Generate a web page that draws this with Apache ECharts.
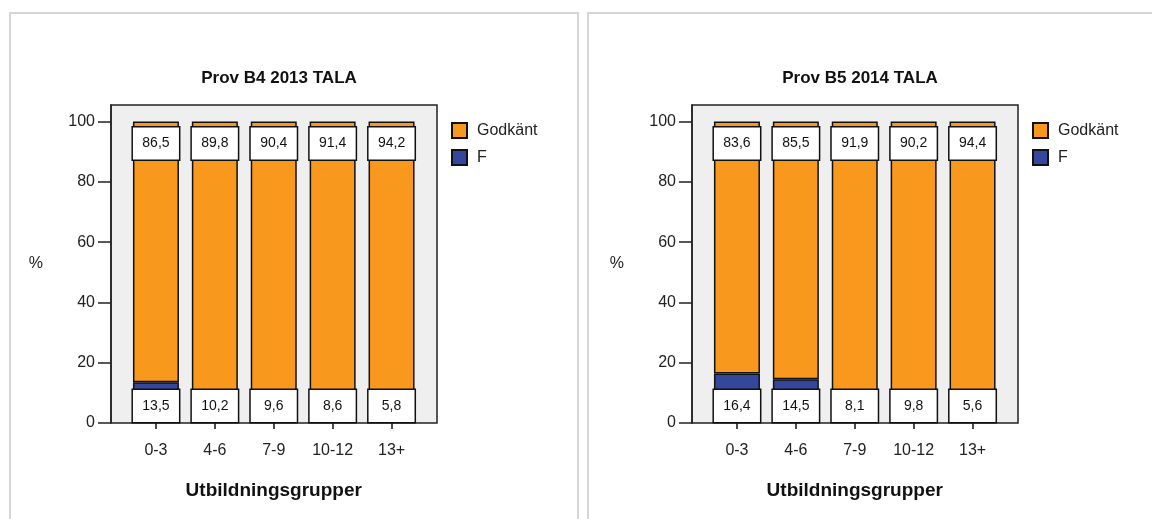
<!DOCTYPE html>
<html>
<head>
<meta charset="utf-8">
<script src="https://cdn.jsdelivr.net/npm/echarts@6/dist/echarts.min.js"></script>
<style>
  html, body { margin: 0; padding: 0; background: #fff; }
  #chart { width: 1152px; height: 519px; }
</style>
</head>
<body>
<div id="chart"></div>
<script>
// utbildningsgrupper
const categories = ['0-3', '4-6', '7-9', '10-12', '13+']
const yTicks = [0, 20, 40, 60, 80, 100]

// Prov B4 2013 TALA
const godkantB4 = [86.5, 89.8, 90.4, 91.4, 94.2]
const fB4 = [13.5, 10.2, 9.6, 8.6, 5.8]

// Prov B5 2014 TALA
const godkantB5 = [83.6, 85.5, 91.9, 90.2, 94.4]
const fB5 = [16.4, 14.5, 8.1, 9.8, 5.6]

const titles = ['Prov B4 2013 TALA', 'Prov B5 2014 TALA']

const ORANGE = '#f8981d'
const BLUE = '#34479c'
const FONT = 'Liberation Sans, Arial, sans-serif'

const chart = echarts.init(document.getElementById('chart'))

// komma som decimaltecken
const fmt = p => p.value.toFixed(1).replace('.', ',')

const valueLabel = (position, distance) => ({
  show: true,
  position: position,
  distance: distance,
  formatter: fmt,
  color: '#111',
  fontSize: 14,
  fontFamily: FONT,
  backgroundColor: '#fff',
  borderColor: '#111',
  borderWidth: 1.5,
  width: 36,
  align: 'center',
  lineHeight: 16,
  padding: [8, 5]
})

const grids = []
const xAxes = []
const yAxes = []
const series = []
const legends = []
const titleList = []

const panels = [
  { dx: 0, godkant: godkantB4, f: fB4 },
  { dx: 581, godkant: godkantB5, f: fB5 }
]

panels.forEach((p, i) => {
  const frame = i * 2
  const bars = i * 2 + 1

  // ram med grå bakgrund + y-axel
  grids.push({
    left: 111 + p.dx, top: 105, width: 326, height: 318,
    show: true, backgroundColor: '#efeff0', borderColor: '#222', borderWidth: 1.5
  })
  // staplarna
  grids.push({ left: 126.5 + p.dx, top: 105, width: 294.5, height: 318 })

  xAxes.push({ gridIndex: frame, type: 'value', min: 0, max: 1, show: false })
  xAxes.push({
    gridIndex: bars,
    type: 'category',
    data: categories,
    axisLine: { show: false },
    axisTick: { show: true, alignWithLabel: true, length: 6, lineStyle: { color: '#111', width: 1.5 } },
    axisLabel: { margin: 20, fontSize: 16, color: '#222', fontFamily: FONT },
    name: 'Utbildningsgrupper',
    nameLocation: 'middle',
    nameGap: 58,
    nameTextStyle: { fontSize: 19, fontWeight: 'bold', color: '#111', fontFamily: FONT }
  })

  yAxes.push({
    gridIndex: frame,
    type: 'value',
    min: 0,
    max: 105.5,
    interval: 20,
    splitLine: { show: false },
    axisLine: { show: true, lineStyle: { color: '#222', width: 1.5 } },
    axisTick: { show: true, length: 13, customValues: yTicks, lineStyle: { color: '#222', width: 1.5 } },
    axisLabel: { margin: 16, fontSize: 16, color: '#222', fontFamily: FONT, customValues: yTicks },
    name: '%',
    nameLocation: 'middle',
    nameRotate: 0,
    nameGap: 68,
    nameTextStyle: { fontSize: 16, color: '#222', fontFamily: FONT }
  })
  yAxes.push({ gridIndex: bars, type: 'value', min: 0, max: 105.5, show: false })

  series.push({
    name: 'F',
    type: 'bar',
    stack: 'tot' + i,
    xAxisIndex: bars,
    yAxisIndex: bars,
    barWidth: 46,
    data: p.f,
    itemStyle: { color: BLUE, borderColor: '#111', borderWidth: 1.5 },
    label: valueLabel('insideBottom', 1)
  })
  series.push({
    name: 'Godkänt',
    type: 'bar',
    stack: 'tot' + i,
    xAxisIndex: bars,
    yAxisIndex: bars,
    barWidth: 46,
    data: p.godkant,
    itemStyle: { color: ORANGE, borderColor: '#111', borderWidth: 1.5 },
    label: valueLabel('insideTop', 6)
  })

  legends.push({
    data: ['Godkänt', 'F'],
    orient: 'vertical',
    left: 446 + p.dx,
    top: 117,
    icon: 'rect',
    itemWidth: 15,
    itemHeight: 15,
    itemGap: 10,
    selectedMode: false,
    textStyle: { fontSize: 16, color: '#222', fontFamily: FONT, padding: [0, 0, 0, 5] }
  })

  titleList.push({
    text: titles[i],
    left: 274 + p.dx,
    top: 65,
    textAlign: 'center',
    textStyle: { fontSize: 17, fontWeight: 'bold', color: '#111', fontFamily: FONT }
  })
})

chart.setOption({
  animation: false,
  textStyle: { fontFamily: FONT },
  title: titleList,
  legend: legends,
  grid: grids,
  xAxis: xAxes,
  yAxis: yAxes,
  series: series,
  graphic: [
    { type: 'rect', shape: { x: 10, y: 13, width: 568, height: 520 }, style: { fill: 'none', stroke: '#d6d6d6', lineWidth: 2 } },
    { type: 'rect', shape: { x: 588, y: 13, width: 580, height: 520 }, style: { fill: 'none', stroke: '#d6d6d6', lineWidth: 2 } }
  ]
})
</script>
</body>
</html>
